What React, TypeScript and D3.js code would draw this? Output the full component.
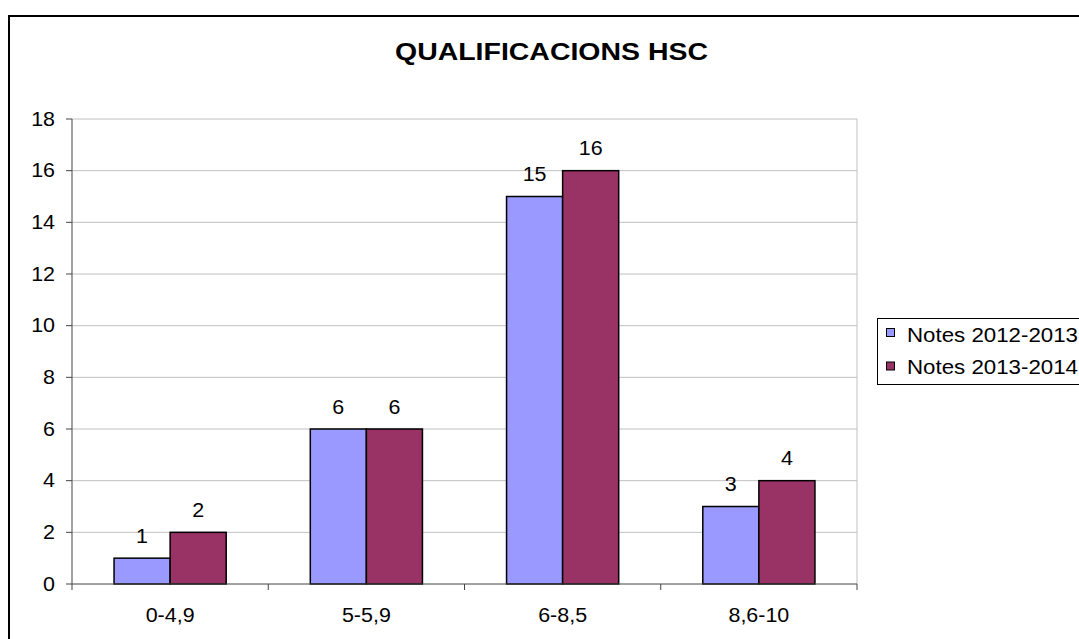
import React from "react";
import * as d3 from "d3";

const categories = ["0-4,9", "5-5,9", "6-8,5", "8,6-10"];
const series1Name = "Notes 2012-2013";
const series2Name = "Notes 2013-2014";
const series1 = [1, 6, 15, 3];
const series2 = [2, 6, 16, 4];
const yTicks = [0, 2, 4, 6, 8, 10, 12, 14, 16, 18];
const title = "QUALIFICACIONS HSC";

const W = 1079;
const H = 639;
const left = 72;
const right = 857;
const top = 119;
const bottom = 584;
const font = "Liberation Sans, Arial, sans-serif";
const colors = ["#9999FF", "#993366"];
const SX = 1.1;

function T({ x, y, anchor = "start", size = 19.5, sx = SX, weight = "normal", children }: any) {
  return (
    <text
      transform={`translate(${x},${y}) scale(${sx},1)`}
      textAnchor={anchor}
      fontSize={size}
      fontWeight={weight}
      fill="#000"
    >
      {children}
    </text>
  );
}

export default function App() {
  const x = d3.scaleBand<string>().domain(categories).range([left, right]).paddingInner(0).paddingOuter(0);
  const y = d3.scaleLinear().domain([0, 18]).range([bottom, top]);
  const cw = x.bandwidth();
  const bw = cw / 3.5;
  const seriesList = [series1, series2];

  return (
    <svg width={W} height={H} style={{ position: "absolute", left: 0, top: 0, background: "#fff" }} fontFamily={font}>
      <rect x={0} y={0} width={W} height={H} fill="#fff" />
      <rect x={9} y={16} width={W + 20} height={H + 20} fill="none" stroke="#000" strokeWidth={2} />
      <text x={551.5} y={59.5} textAnchor="middle" fontSize={23} fontWeight="bold" textLength={313} lengthAdjust="spacingAndGlyphs">{title}</text>
      {yTicks.map((t) => (
        <g key={t}>
          {t > 0 && <line x1={left} x2={right} y1={y(t)} y2={y(t)} stroke="#c0c0c0" strokeWidth={1} />}
          <line x1={left - 6} x2={left} y1={y(t)} y2={y(t)} stroke="#444" strokeWidth={1} />
          <T x={55} y={y(t) + 6.7} anchor="end">{t}</T>
        </g>
      ))}
      <line x1={right} x2={right} y1={top} y2={bottom} stroke="#c0c0c0" strokeWidth={1} />
      {categories.map((c, i) => {
        const x0 = x(c)! + (cw - 2 * bw) / 2;
        return (
          <g key={c}>
            {seriesList.map((s, j) => (
              <g key={j}>
                <rect x={x0 + j * bw} y={y(s[i])} width={bw} height={bottom - y(s[i])} fill={colors[j]} stroke="#000" strokeWidth={1.5} />
                <T x={x0 + j * bw + bw / 2} y={y(s[i]) - 15.5} anchor="middle">{s[i]}</T>
              </g>
            ))}
            <T x={x(c)! + cw / 2} y={621.5} anchor="middle">{c}</T>
          </g>
        );
      })}
      {[...categories.map((c) => x(c)!), right].map((v, i) => (
        <line key={i} x1={v} x2={v} y1={bottom} y2={bottom + 6} stroke="#444" strokeWidth={1} />
      ))}
      <line x1={left} x2={left} y1={top} y2={bottom} stroke="#444" strokeWidth={1} />
      <line x1={left} x2={right} y1={bottom} y2={bottom} stroke="#444" strokeWidth={1} />
      <rect x={877.5} y={318.5} width={W} height={66} fill="#fff" stroke="#000" strokeWidth={1} />
      {[series1Name, series2Name].map((n, j) => (
        <g key={n}>
          <rect x={886.5} y={328.5 + j * 33.5} width={8} height={8} fill={colors[j]} stroke="#000" strokeWidth={1} />
          <text x={907} y={342 + j * 32} fontSize={20} textLength={171} lengthAdjust="spacingAndGlyphs">{n}</text>
        </g>
      ))}
    </svg>
  );
}
